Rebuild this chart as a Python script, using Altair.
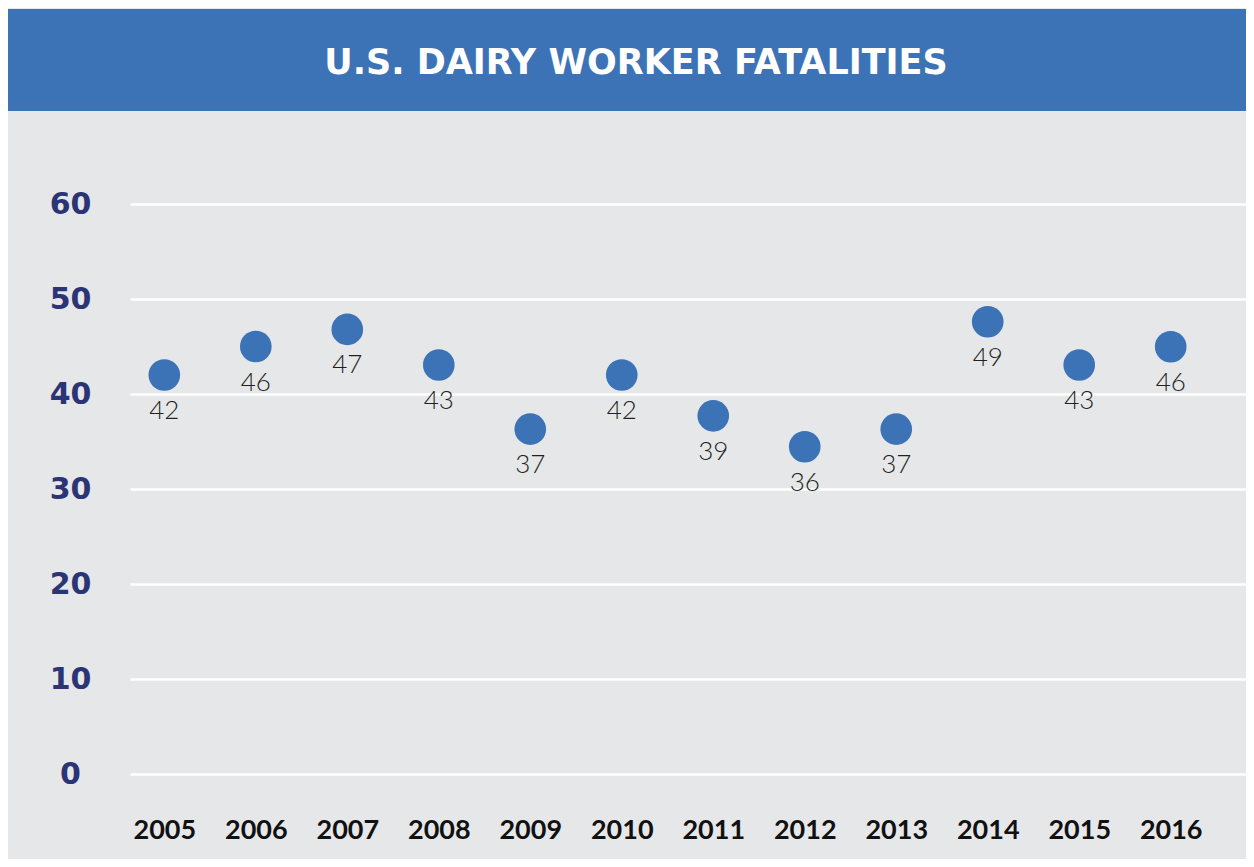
import altair as alt
import pandas as pd

# ---- data ----
years = [2005, 2006, 2007, 2008, 2009, 2010, 2011, 2012, 2013, 2014, 2015, 2016]
# value labels printed under each marker
fatality_labels = [42, 46, 47, 43, 37, 42, 39, 36, 37, 49, 43, 46]
# vertical position of each marker as drawn in the picture
marker_values = [42.0, 45.0, 46.8, 43.05, 36.3, 42.0, 37.7, 34.45, 36.3, 47.6, 43.05, 44.97]
y_ticks = [0, 10, 20, 30, 40, 50, 60]
title_text = "U.S. DAIRY WORKER FATALITIES"

BLUE = "#3c73b6"
GRAY = "#e6e7e9"

df = pd.DataFrame({"year": years, "label": fatality_labels, "pos": marker_values})
title_df = pd.DataFrame({"t": [title_text]})

x_enc = alt.X(
    "year:Q",
    scale=alt.Scale(domain=[2004.625, 2016.823], nice=False, zero=False),
    axis=alt.Axis(
        values=years, format="d", title=None, grid=False, domain=False,
        ticks=False, tickSize=0, labelFont="Lato", labelFontWeight="bold",
        labelFontSize=27, labelColor="#111111", labelPadding=43,
        labelFlush=False, labelOverlap=False,
    ),
)
y_enc = alt.Y(
    "pos:Q",
    scale=alt.Scale(domain=[0, 60], nice=False, zero=True),
    axis=alt.Axis(
        values=y_ticks, title=None, grid=True, gridColor="white",
        gridWidth=2.5, gridOpacity=1, domain=False, ticks=False, tickSize=0,
        labelFont="DejaVu Sans", labelFontWeight="bold", labelFontSize=30,
        labelColor="#2b3475", labelPadding=60, labelAlign="center",
    ),
)

banner = alt.Chart(title_df).mark_rect(color=BLUE).encode(
    x=alt.value(-122), x2=alt.value(1116), y=alt.value(-195), y2=alt.value(-93)
)
title = alt.Chart(title_df).mark_text(
    font="DejaVu Sans", fontWeight="bold", fontSize=35, color="white",
    baseline="alphabetic", align="center",
).encode(x=alt.value(506), y=alt.value(-130), text="t:N")

points = alt.Chart(df).mark_circle(size=1000, color=BLUE, opacity=1).encode(
    x=x_enc, y=y_enc
)
labels = alt.Chart(df).mark_text(
    font="Lato", fontWeight=300, fontSize=26, color="#231f20",
    baseline="alphabetic", align="center", dy=44,
).encode(x="year:Q", y="pos:Q", text="label:Q")

chart = (
    alt.layer(banner, title, points, labels)
    .properties(
        width=1116, height=570,
        padding={"left": 122, "top": 196, "right": 0, "bottom": 85},
        autosize=alt.AutoSizeParams(type="none"),
        background=GRAY,
    )
    .configure_view(strokeWidth=0)
)

chart.save("out.html", embed_options={"renderer": "svg", "actions": False})
